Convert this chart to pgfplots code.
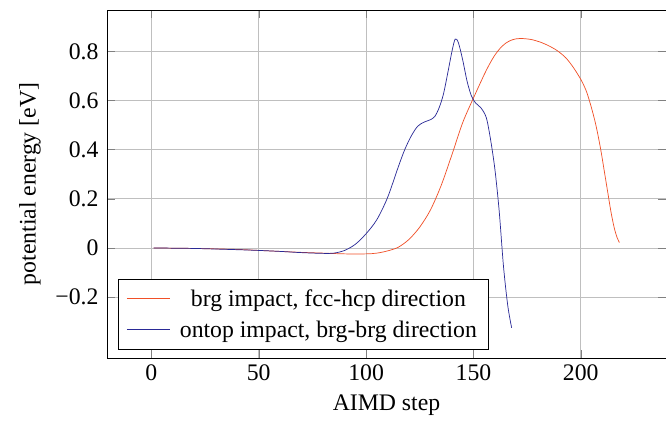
\documentclass[border=0pt]{standalone}
\usepackage{fontspec}
\setmainfont{Liberation Serif}
\usepackage{pgfplots}
\pgfplotsset{compat=1.18}

\definecolor{brgred}{RGB}{240,80,40}
\definecolor{topblue}{RGB}{42,42,150}

\begin{document}
\begin{tikzpicture}[font=\fontsize{13.2}{16}\selectfont]
\begin{axis}[
  scale only axis,
  width=311pt,height=193.6pt,
  xmin=-20.7,xmax=239.7,
  ymin=-0.448,ymax=0.968,
  xtick={0,50,100,150,200},
  ytick={-0.2,0,0.2,0.4,0.6,0.8},
  yticklabels={−0.2,0,0.2,0.4,0.6,0.8},
  /pgf/number format/assume math mode=true,
  tick label style={font=\fontsize{13.2}{16}\selectfont},
  yticklabel style={xshift=-1.2pt},
  label style={font=\fontsize{13.2}{16}\selectfont},
  ylabel style={at={(axis description cs:-0.1376,0.5)},anchor=center},
  xlabel style={at={(axis description cs:0.5,-0.134)},anchor=center},
  grid=major,
  xlabel={AIMD step},
  ylabel={potential energy [eV]},
  legend cell align=center,
  legend style={at={(0.0196,0.023)},anchor=south west,draw=black,
    font=\fontsize{13.2}{16}\selectfont,inner ysep=3.5pt,inner xsep=4.5pt,
    row sep=2.5pt,
    /tikz/every odd column/.append style={column sep=3pt}},
  legend image code/.code={\draw[#1,line width=0.6pt] (0cm,0.3pt) -- (0.85cm,0.3pt);},
]
\addplot[color=brgred,smooth,no marks] coordinates {
(1,0) (20,-0.002) (40,-0.006) (50,-0.010) (60,-0.014) (70,-0.018)
(80,-0.021) (90,-0.024) (100,-0.024) (105,-0.021) (110,-0.012)
(115,0.003) (120,0.035) (125,0.085) (130,0.155) (135,0.255)
(140,0.38) (145,0.51) (150,0.61) (155,0.705) (157.5,0.748) (160,0.785)
(162.5,0.813) (165,0.833) (167.5,0.845) (170,0.851) (173,0.852) (177,0.848) (181,0.838) (185,0.823)
(189,0.803) (193,0.774) (196.5,0.735) (200,0.686) (202.5,0.64) (204.5,0.585)
(206.5,0.52) (208,0.46) (209.5,0.39) (211,0.31) (212.5,0.23)
(214,0.15) (215.5,0.085) (216.8,0.045) (218,0.022)
};
\addlegendentry{brg impact, fcc-hcp direction}
\addplot[color=topblue,smooth,no marks] coordinates {
(1,0) (20,-0.002) (40,-0.007) (50,-0.010) (60,-0.014) (70,-0.019)
(80,-0.022) (85,-0.021) (90,-0.010) (95,0.015) (100,0.058)
(105,0.115) (110,0.205) (115,0.33) (118,0.40) (121,0.455)
(124,0.495) (127,0.512) (130,0.522) (132,0.535) (134,0.57)
(136,0.625) (138,0.71) (140,0.80) (141.5,0.85) (143,0.835)
(145,0.765) (147,0.68) (149,0.62) (151,0.59) (153.5,0.57)
(156,0.53) (158,0.44) (160,0.32) (162,0.15) (164,-0.075)
(166,-0.235) (167.8,-0.325)
};
\addlegendentry{ontop impact, brg-brg direction}
\end{axis}
\pgfresetboundingbox
\path ([xshift=-59.5pt,yshift=5.6pt]current axis.north west) rectangle ([yshift=-37.3pt]current axis.south east);
\end{tikzpicture}
\end{document}
